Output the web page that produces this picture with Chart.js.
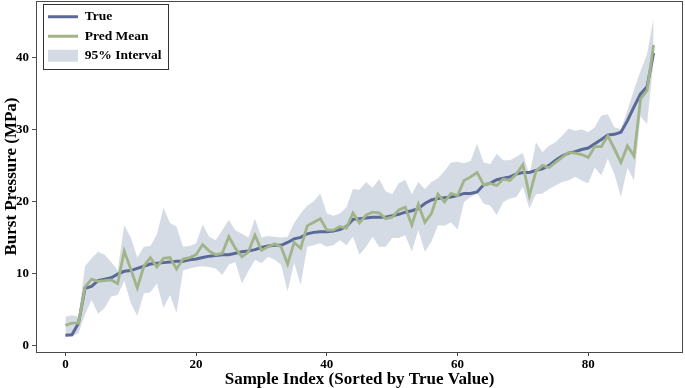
<!DOCTYPE html>
<html lang="en">
<head>
<meta charset="UTF-8">
<title>Burst Pressure Prediction</title>
<style>
    body {
        margin: 0;
        padding: 0;
        background: #ffffff;
    }
    .chart-box {
        position: relative;
        width: 685px;
        height: 388px;
    }
</style>
<script src="https://cdn.jsdelivr.net/npm/chart.js@4"></script>
</head>
<body>
<div class="chart-box"><canvas id="burstChart"></canvas></div>
<script>
    const xTicks = [0, 20, 40, 60, 80];
    const yTicks = [0, 10, 20, 30, 40];

    const trueValues = [
        1.43, 1.5, 3.1, 7.95, 8.2, 9.0, 9.2, 9.4, 9.9, 10.3,
        10.4, 10.7, 11.0, 11.3, 11.4, 11.5, 11.6, 11.7, 11.7, 11.9,
        12.0, 12.2, 12.4, 12.5, 12.6, 12.6, 12.8, 13.0, 13.1, 13.3,
        13.6, 13.8, 13.9, 13.9, 14.3, 14.8, 15.0, 15.5, 15.7, 15.8,
        15.8, 15.9, 16.1, 16.5, 17.5, 17.6, 17.7, 17.8, 17.8, 17.8,
        18.0, 18.2, 18.5, 18.7, 19.0, 19.7, 20.2, 20.4, 20.5, 20.6,
        20.8, 21.1, 21.1, 21.3, 22.3, 22.5, 23.0, 23.2, 23.4, 23.8,
        24.0, 24.0, 24.3, 24.5, 25.0, 25.7, 26.3, 26.7, 26.9, 27.2,
        27.4, 28.0, 28.6, 29.2, 29.3, 29.6, 31.2, 33.1, 34.9, 35.9,
        40.6
    ];

    const predMean = [
        2.8, 3.1, 3.1, 8.1, 9.2, 8.9, 9.0, 9.1, 8.6, 13.1,
        10.6, 8.0, 11.0, 12.2, 10.9, 12.1, 12.2, 10.6, 12.0, 12.2,
        12.6, 14.0, 13.1, 12.6, 12.8, 15.1, 13.5, 12.3, 13.0, 15.3,
        13.2, 13.7, 14.1, 13.7, 11.3, 14.3, 13.5, 16.6, 17.1, 17.6,
        16.0, 16.0, 16.5, 16.3, 18.4, 17.0, 18.1, 18.5, 18.4, 17.6,
        17.8, 18.8, 19.2, 16.7, 19.6, 17.1, 18.3, 21.0, 19.9, 21.1,
        20.8, 22.9, 23.4, 24.0, 22.3, 22.5, 22.2, 23.1, 22.9, 23.8,
        25.1, 20.8, 24.2, 25.0, 24.7, 25.4, 26.1, 26.8, 26.7, 26.5,
        26.1, 27.6, 27.6, 29.1, 27.3, 25.4, 27.7, 26.3, 34.2, 35.4,
        41.7
    ];

    const lower95 = [
        1.3, 1.3, 1.7, 4.3, 6.3, 4.4, 5.2, 6.8, 7.0, 9.0,
        5.9, 4.1, 7.2, 7.4, 8.6, 5.2, 7.0, 4.5, 10.4, 10.7,
        10.9, 11.0, 10.9, 10.7, 9.8, 11.2, 11.6, 8.6, 10.3, 11.9,
        11.4, 12.3, 11.9, 11.2, 7.5, 11.5, 8.4, 13.7, 13.9, 14.2,
        13.7, 13.9, 14.6, 13.9, 15.1, 12.6, 13.7, 15.1, 13.7, 13.7,
        14.9, 14.9, 15.3, 13.0, 16.0, 13.0, 14.4, 16.7, 16.6, 17.1,
        16.1, 19.9, 20.6, 21.1, 19.7, 19.4, 18.1, 19.9, 20.4, 20.6,
        22.0, 19.0, 21.0, 21.1, 21.7, 22.2, 22.7, 22.9, 23.4, 22.9,
        22.5, 24.7, 23.6, 25.9, 23.8, 20.6, 24.7, 22.9, 31.8, 30.7,
        39.5
    ];

    const upper95 = [
        4.0, 4.2, 4.0, 11.0, 12.1, 13.0, 12.6, 11.6, 10.4, 16.7,
        15.0, 12.2, 13.7, 13.8, 15.4, 19.1, 17.0, 16.5, 13.7, 13.8,
        14.2, 16.8, 15.1, 14.6, 16.0, 17.4, 16.0, 15.5, 15.0, 17.6,
        15.0, 15.2, 15.1, 15.0, 15.1, 17.0, 18.3, 19.4, 20.0, 21.1,
        18.3, 18.0, 18.3, 19.2, 21.7, 21.6, 22.7, 21.9, 23.1, 21.4,
        21.0, 22.5, 23.0, 21.0, 22.7, 21.7, 22.7, 23.2, 24.2, 25.4,
        25.5, 25.3, 25.6, 28.0, 25.4, 25.2, 26.6, 25.7, 25.7, 26.2,
        26.7, 23.6, 28.2, 26.8, 27.7, 28.2, 29.1, 30.1, 29.8, 30.0,
        29.6, 30.3, 31.9, 32.1, 30.3, 30.0, 32.6, 35.5, 38.1, 40.4,
        45.5
    ];

    const toPoints = arr => arr.map((v, i) => ({ x: i, y: v }));

    const colTrue = '#5a6998';
    const colPred = '#a1b489';
    const colBand = 'rgba(88, 110, 150, 0.25)';
    const colAxis = '#4a4a4a';
    const serif = "'Liberation Serif', 'Times New Roman', serif";

    // full box around the plot area, like matplotlib spines
    const frameBox = {
        id: 'frameBox',
        afterDraw(chart) {
            const { ctx, chartArea: a } = chart;
            ctx.save();
            ctx.strokeStyle = colAxis;
            ctx.lineWidth = 1;
            ctx.strokeRect(a.left + 0.5, a.top + 0.5, a.right - a.left - 1, a.bottom - a.top);
            ctx.restore();
        }
    };

    // put the legend inside the plot, near the top-left corner, with a frame
    const legendFrame = {
        id: 'legendFrame',
        afterLayout(chart) {
            const lg = chart.legend;
            const a = chart.chartArea;
            lg.left = a.left + 6;
            lg.top = a.top + 3;
        },
        afterDraw(chart) {
            const boxes = chart.legend.legendHitBoxes;
            if (!boxes || !boxes.length) return;
            const left = Math.min(...boxes.map(b => b.left)) - 5;
            const right = Math.max(...boxes.map(b => b.left + b.width)) + 6;
            const top = boxes[0].top - 6;
            const last = boxes[boxes.length - 1];
            const bottom = last.top + last.height + 6;
            const ctx = chart.ctx;
            ctx.save();
            ctx.strokeStyle = '#333333';
            ctx.lineWidth = 1;
            ctx.strokeRect(Math.round(left) + 0.5, Math.round(top) + 0.5, Math.round(right - left), Math.round(bottom - top));
            ctx.restore();
        }
    };

    const ctx = document.getElementById('burstChart').getContext('2d');
    new Chart(ctx, {
        type: 'line',
        data: {
            datasets: [
                {
                    label: 'Pred Mean',
                    data: toPoints(predMean),
                    borderColor: colPred,
                    borderWidth: 2.8,
                    pointRadius: 0,
                    fill: false,
                    order: 0
                },
                {
                    label: 'True',
                    data: toPoints(trueValues),
                    borderColor: colTrue,
                    borderWidth: 3,
                    pointRadius: 0,
                    fill: false,
                    order: 1
                },
                {
                    label: 'lower',
                    data: toPoints(lower95),
                    borderWidth: 0,
                    borderColor: 'rgba(0,0,0,0)',
                    pointRadius: 0,
                    fill: false,
                    order: 3
                },
                {
                    label: '95% Interval',
                    data: toPoints(upper95),
                    borderWidth: 0,
                    borderColor: 'rgba(0,0,0,0)',
                    backgroundColor: colBand,
                    pointRadius: 0,
                    fill: '-1',
                    order: 2
                }
            ]
        },
        options: {
            responsive: true,
            maintainAspectRatio: false,
            animation: false,
            devicePixelRatio: 1,
            layout: {
                padding: { top: 1, right: 2, left: 0, bottom: 0 }
            },
            plugins: {
                legend: {
                    position: 'chartArea',
                    align: 'start',
                    labels: {
                        usePointStyle: true,
                        pointStyleWidth: 30,
                        boxHeight: 12,
                        padding: 6,
                        color: '#000000',
                        font: { family: serif, size: 13.5, weight: 'bold' },
                        generateLabels: () => [
                            { text: 'True', pointStyle: 'line', strokeStyle: colTrue, fillStyle: colTrue, lineWidth: 3, fontColor: '#000' },
                            { text: 'Pred Mean', pointStyle: 'line', strokeStyle: colPred, fillStyle: colPred, lineWidth: 3, fontColor: '#000' },
                            { text: '95% Interval', pointStyle: 'rect', strokeStyle: 'rgba(0,0,0,0)', fillStyle: colBand, lineWidth: 0, fontColor: '#000' }
                        ]
                    }
                },
                tooltip: { enabled: false }
            },
            scales: {
                x: {
                    type: 'linear',
                    min: -4.5,
                    max: 94.5,
                    afterBuildTicks: s => { s.ticks = xTicks.map(v => ({ value: v })); },
                    afterFit: s => { s.height = 36; s.paddingLeft = 0; s.paddingRight = 0; },
                    grid: { drawOnChartArea: false, drawTicks: true, tickLength: 4, color: colAxis },
                    border: { display: false },
                    ticks: {
                        padding: 1,
                        color: '#000000',
                        font: { family: serif, size: 13, weight: 'bold' },
                        maxRotation: 0
                    },
                    title: {
                        display: true,
                        text: 'Sample Index (Sorted by True Value)',
                        color: '#000000',
                        font: { family: serif, size: 17, weight: 'bold', lineHeight: 1 },
                        padding: { top: 0, bottom: 0 }
                    }
                },
                y: {
                    type: 'linear',
                    min: -0.9,
                    max: 47.8,
                    afterBuildTicks: s => { s.ticks = yTicks.map(v => ({ value: v })); },
                    afterFit: s => { s.width = 36; s.paddingTop = 0; s.paddingBottom = 0; },
                    grid: { drawOnChartArea: false, drawTicks: true, tickLength: 4, color: colAxis },
                    border: { display: false },
                    ticks: {
                        padding: 3,
                        color: '#000000',
                        font: { family: serif, size: 13, weight: 'bold' }
                    },
                    title: {
                        display: true,
                        text: 'Burst Pressure (MPa)',
                        color: '#000000',
                        font: { family: serif, size: 17, weight: 'bold', lineHeight: 1 },
                        padding: { top: 3, bottom: 0 }
                    }
                }
            }
        },
        plugins: [frameBox, legendFrame]
    });
</script>
</body>
</html>
